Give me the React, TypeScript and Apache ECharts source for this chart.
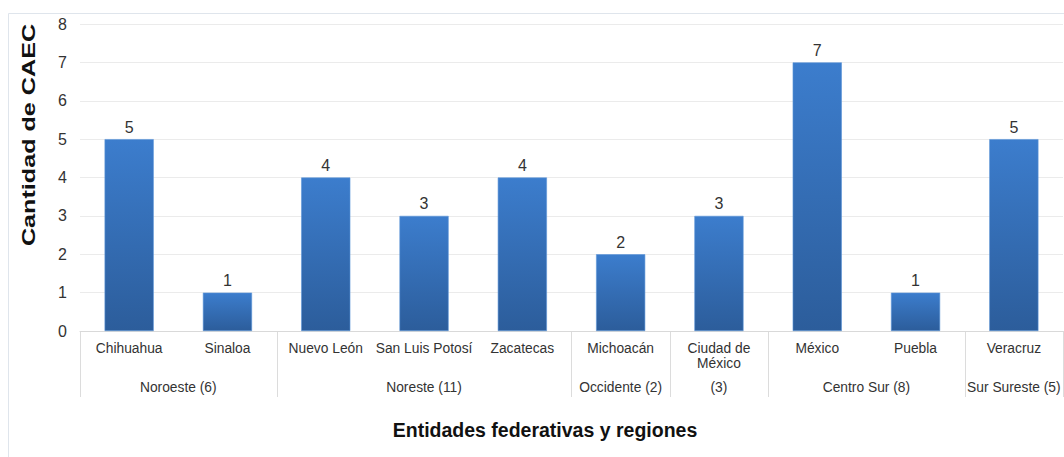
import React, { useEffect, useRef } from "react";
import * as echarts from "echarts";

const categories = [
  "Chihuahua",
  "Sinaloa",
  "Nuevo León",
  "San Luis Potosí",
  "Zacatecas",
  "Michoacán",
  "Ciudad de\nMéxico",
  "México",
  "Puebla",
  "Veracruz",
];
const values = [5, 1, 4, 3, 4, 2, 3, 7, 1, 5];
const regions = ["Noroeste (6)", "Noreste (11)", "Occidente (2)", "(3)", "Centro Sur (8)", "Sur Sureste (5)"];
const regionSpans = [2, 3, 1, 1, 2, 1];
const yTicks = [0, 1, 2, 3, 4, 5, 6, 7, 8];

const FONT = "Liberation Sans, Arial, sans-serif";

export default function App() {
  const ref = useRef<HTMLDivElement>(null);
  useEffect(() => {
    const chart = echarts.init(ref.current!, null, { renderer: "svg" });
    const gridTop = 24;
    const gridBottom = 126;
    chart.setOption({
      animation: false,
      backgroundColor: "#ffffff",
      grid: { left: 80, right: 1, top: gridTop, bottom: gridBottom },
      xAxis: {
        type: "category",
        data: categories,
        axisLine: { show: true, lineStyle: { color: "#d9d9d9", width: 1 } },
        axisTick: { show: false },
        axisLabel: {
          interval: 0,
          color: "#333333",
          fontFamily: FONT,
          fontSize: 13.8,
          lineHeight: 15,
          margin: 10,
        },
      },
      yAxis: {
        type: "value",
        min: yTicks[0],
        max: yTicks[yTicks.length - 1],
        interval: 1,
        axisLine: { show: false },
        axisTick: { show: false },
        splitLine: { lineStyle: { color: "#ebebeb", width: 1 } },
        axisLabel: { color: "#333333", fontFamily: FONT, fontSize: 16, margin: 13 },
      },
      series: [
        {
          type: "bar",
          data: values,
          barWidth: "50%",
          itemStyle: {
            color: new echarts.graphic.LinearGradient(0, 0, 0, 1, [
              { offset: 0, color: "#3c7dcd" },
              { offset: 1, color: "#2c5d9b" },
            ]),
            borderColor: "#5d95d8",
            borderWidth: 0.6,
          },
          label: {
            show: true,
            position: "top",
            distance: 4,
            color: "#333333",
            fontFamily: FONT,
            fontSize: 16,
          },
        },
      ],
    });

    const c0 = chart.convertToPixel({ xAxisIndex: 0 }, 0) as number;
    const c1 = chart.convertToPixel({ xAxisIndex: 0 }, 1) as number;
    const band = c1 - c0;
    const axisY = chart.convertToPixel({ yAxisIndex: 0 }, 0) as number;
    const graphics: any[] = [
      {
        type: "rect",
        shape: { x: 8.5, y: 13.5, width: 1060, height: 460 },
        style: { fill: "none", stroke: "#dfe5ec", lineWidth: 1 },
        silent: true,
        z: -1,
      },
    ];
    let start = 0;
    const boundaries: number[] = [0];
    regions.forEach((name, i) => {
      const end = start + regionSpans[i];
      const left = c0 - band / 2 + start * band;
      const right = c0 - band / 2 + end * band;
      graphics.push({
        type: "text",
        x: (left + right) / 2,
        y: axisY + 56,
        style: {
          text: name,
          fill: "#333333",
          font: `13.8px ${FONT}`,
          align: "center",
          verticalAlign: "middle",
        },
      });
      boundaries.push(end);
      start = end;
    });
    boundaries.forEach((b) => {
      const x = Math.round(c0 - band / 2 + b * band) + 0.5;
      graphics.push({
        type: "line",
        shape: { x1: x, y1: axisY, x2: x, y2: axisY + 66 },
        style: { stroke: "#dcdcdc", lineWidth: 1 },
      });
    });
    graphics.push({
      type: "text",
      x: 545,
      y: 430,
      style: {
        text: "Entidades federativas y regiones",
        fill: "#111111",
        font: `bold 19.5px ${FONT}`,
        align: "center",
        verticalAlign: "middle",
      },
    });
    graphics.push({
      type: "text",
      x: 29,
      y: 135,
      rotation: Math.PI / 2,
      scaleX: 1.36,
      style: {
        text: "Cantidad de CAEC",
        fill: "#111111",
        font: `bold 18.5px ${FONT}`,
        align: "center",
        verticalAlign: "middle",
      },
    });
    chart.setOption({ graphic: graphics });
    return () => chart.dispose();
  }, []);
  return (
    <div
      ref={ref}
      style={{ position: "fixed", left: 0, top: 0, width: 1064, height: 457 }}
    />
  );
}
